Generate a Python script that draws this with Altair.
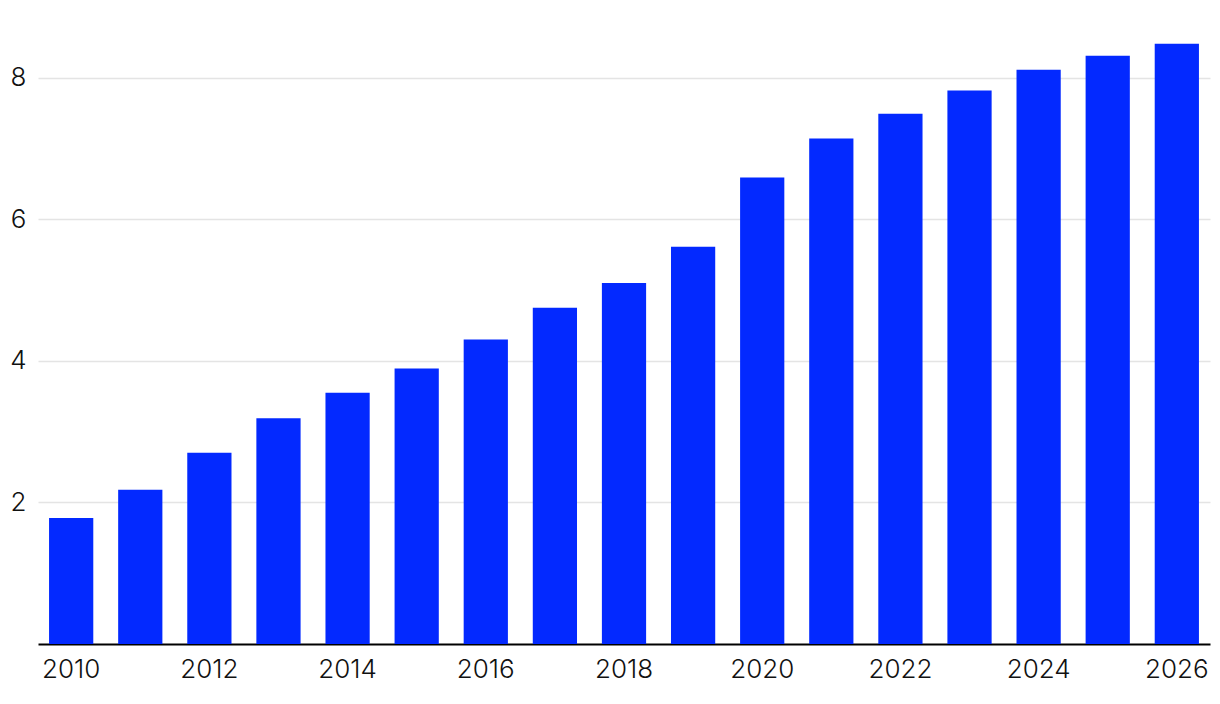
import altair as alt
import pandas as pd

years = [str(y) for y in range(2010, 2027)]
values = [1.78, 2.18, 2.70, 3.19, 3.55, 3.89, 4.30, 4.75, 5.10, 5.61,
          6.59, 7.14, 7.49, 7.82, 8.11, 8.31, 8.48]
x_tick_labels = [str(y) for y in range(2010, 2027, 2)]
y_ticks = [2, 4, 6, 8]

df = pd.DataFrame({"year": years, "value": values})

FONT = "Inter"

chart = alt.Chart(df).mark_bar(color="#0329ff").encode(
    x=alt.X("year:N", sort=years,
            scale=alt.Scale(paddingInner=0.36, paddingOuter=0.16),
            axis=alt.Axis(title=None, values=x_tick_labels, labelAngle=0,
                          ticks=False, grid=False, domain=True,
                          domainColor="#000000", domainWidth=2,
                          labelFont=FONT, labelFontSize=26, labelFontWeight=300,
                          labelColor="#111111", labelPadding=12)),
    y=alt.Y("value:Q", scale=alt.Scale(domain=[0, 8.8], nice=False, zero=True),
            axis=alt.Axis(title=None, values=y_ticks, ticks=False, domain=False,
                          grid=True, gridColor="#e4e4e4", gridWidth=1.5,
                          labelFont=FONT, labelFontSize=26, labelFontWeight=300,
                          labelColor="#111111", labelPadding=12)),
).properties(
    width=1172, height=623,
    autosize=alt.AutoSizeParams(type="none"),
    padding={"left": 30, "top": 13, "right": 2, "bottom": 50},
).configure_view(stroke=None)

chart.save("out.html", embed_options={"renderer": "svg", "actions": False})
